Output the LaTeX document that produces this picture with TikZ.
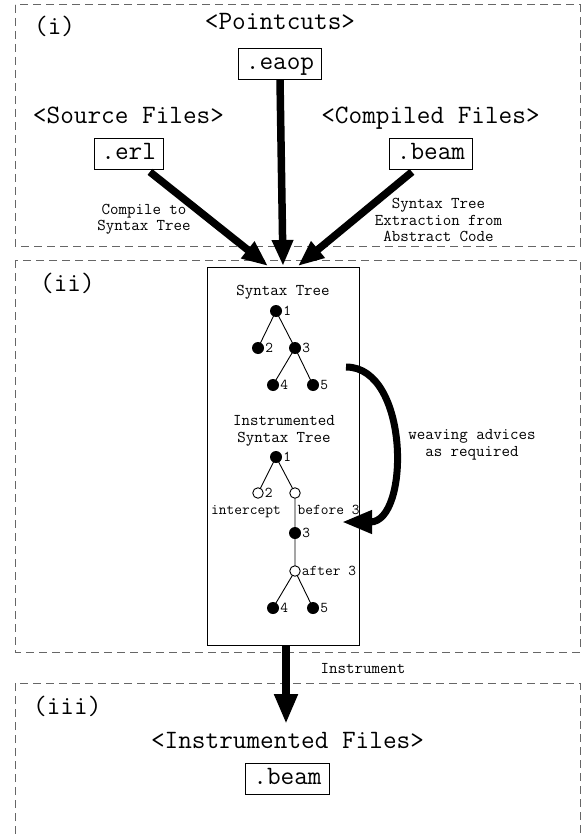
\documentclass[tikz,border=0pt]{standalone}
\renewcommand*\familydefault{\ttdefault}
\usetikzlibrary{arrows.meta}
\begin{document}
\begin{tikzpicture}[x=1pt,y=-1pt,
  dbox/.style={draw=black!60, dash pattern=on 8pt off 5pt, line width=1pt},
  filebox/.style={draw, line width=0.8pt, font=\fontsize{26.5}{28}\selectfont, text height=15pt, text depth=4pt, inner xsep=7.5pt, inner ysep=6pt},
  bigtxt/.style={font=\fontsize{26.5}{28}\selectfont, inner sep=0pt},
  smalltxt/.style={font=\fontsize{16.5}{16.5}\selectfont, align=center, inner sep=0pt},
  fnode/.style={circle, fill, inner sep=0pt, minimum size=12pt},
  onode/.style={circle, draw, fill=white, line width=0.9pt, inner sep=0pt, minimum size=10.5pt},
  lbl/.style={font=\fontsize{15}{15}\selectfont, inner sep=1pt},
  bigarrow/.style={line width=7.5pt, -{Triangle[length=26pt,width=20pt]}},
  edge/.style={line width=0.9pt}
]
\useasboundingbox (0,0) rectangle (582,834);
% dashed regions
\draw[dbox] (15,5) rectangle (580,246);
\draw[dbox] (15,260) rectangle (580,652);
\draw[dbox] (15,834) -- (15,683) -- (580,683) -- (580,834);

% region (i)
\node[bigtxt, anchor=base west] (lab1) at (34,35) {(i)};
\node[bigtxt, anchor=base] (pc) at (280,30) {<Pointcuts>};
\node[bigtxt, anchor=base] (sf) at (128.5,124) {<Source Files>};
\node[bigtxt, anchor=base] (cf) at (430.5,124) {<Compiled Files>};
\node[filebox] (eaop) at (280,64) {.eaop};
\node[filebox] (erl) at (128.7,154) {.erl};
\node[filebox] (beam) at (431,154) {.beam};
\node[smalltxt] (comp) at (144,219) {Compile to\\Syntax Tree};
\node[smalltxt] (extr) at (438.5,220) {Syntax Tree\\Extraction from\\Abstract Code};

% region (ii)
\node[bigtxt, anchor=base west] (lab2) at (40,291) {(ii)};
\node[draw, line width=0.9pt, minimum width=152pt, minimum height=378pt, inner sep=0pt] (tree) at (283,456) {};
\coordinate (tl) at (268,266);
\coordinate (tc) at (283,266);
\coordinate (tr) at (298,266);
\draw[bigarrow] ([xshift=-14pt,yshift=-2pt]erl.south east) -- (tl);
\draw[bigarrow] (eaop.south) -- (tc);
\draw[bigarrow] ([xshift=23pt,yshift=-2pt]beam.south west) -- (tr);

\node[smalltxt, anchor=base] (st1) at (283,295.5) {Syntax Tree};
% tree 1
\coordinate (p1) at (276,311);
\coordinate (p2) at (258,348);
\coordinate (p3) at (295,348);
\coordinate (p4) at (273,385);
\coordinate (p5) at (313,385);
\draw[edge] (p1) -- (p2) (p1) -- (p3) (p3) -- (p4) (p3) -- (p5);
\node[fnode, label={[lbl]right:1}] (n1) at (p1) {};
\node[fnode, label={[lbl]right:2}] (n2) at (p2) {};
\node[fnode, label={[lbl]right:3}] (n3) at (p3) {};
\node[fnode, label={[lbl]right:4}] (n4) at (p4) {};
\node[fnode, label={[lbl]right:5}] (n5) at (p5) {};

\node[smalltxt] (st2) at (284,431) {Instrumented\\Syntax Tree};
% tree 2
\coordinate (q1) at (276,457);
\coordinate (q2) at (258,493);
\coordinate (qb) at (295,493);
\coordinate (q3) at (295,533);
\coordinate (qa) at (295,571);
\coordinate (q4) at (273,608);
\coordinate (q5) at (313,608);
\draw[edge] (q1) -- (q2) (q1) -- (qb) -- (q3) -- (qa) (qa) -- (q4) (qa) -- (q5);
\node[fnode, label={[lbl]right:1}] (m1) at (q1) {};
\node[onode, label={[lbl]right:2}] (m2) at (q2) {};
\node[onode] (mb) at (qb) {};
\node[fnode, label={[lbl]right:3}] (m3) at (q3) {};
\node[onode, label={[lbl]right:after 3}] (ma) at (qa) {};
\node[fnode, label={[lbl]right:4}] (m4) at (q4) {};
\node[fnode, label={[lbl]right:5}] (m5) at (q5) {};
\node[lbl, anchor=base] (icp) at (246,514) {intercept};
\node[lbl, anchor=base west] (bef) at (296.5,514) {before 3};

% weaving arrow
\coordinate (cs) at (346,367);
\coordinate (ce) at (342,522);
\draw[line width=7pt, -{Triangle[length=30pt,width=22pt]}] (cs) .. controls (410,367) and (410,522) .. (ce);
\node[smalltxt] (weave) at (472,445) {weaving advices\\as required};

% region (iii)
\coordinate (itip) at (286,724);
\draw[line width=8pt, -{Triangle[length=30pt,width=22pt]}] ([xshift=3pt]tree.south) -- (itip);
\node[smalltxt, anchor=base] (instr) at (363,673.5) {Instrument};
\node[bigtxt, anchor=base west] (lab3) at (33,714) {(iii)};
\node[bigtxt, anchor=base] (inf) at (287.5,748) {<Instrumented Files>};
\node[filebox] (beam2) at (287.5,778.5) {.beam};
\end{tikzpicture}
\end{document}
